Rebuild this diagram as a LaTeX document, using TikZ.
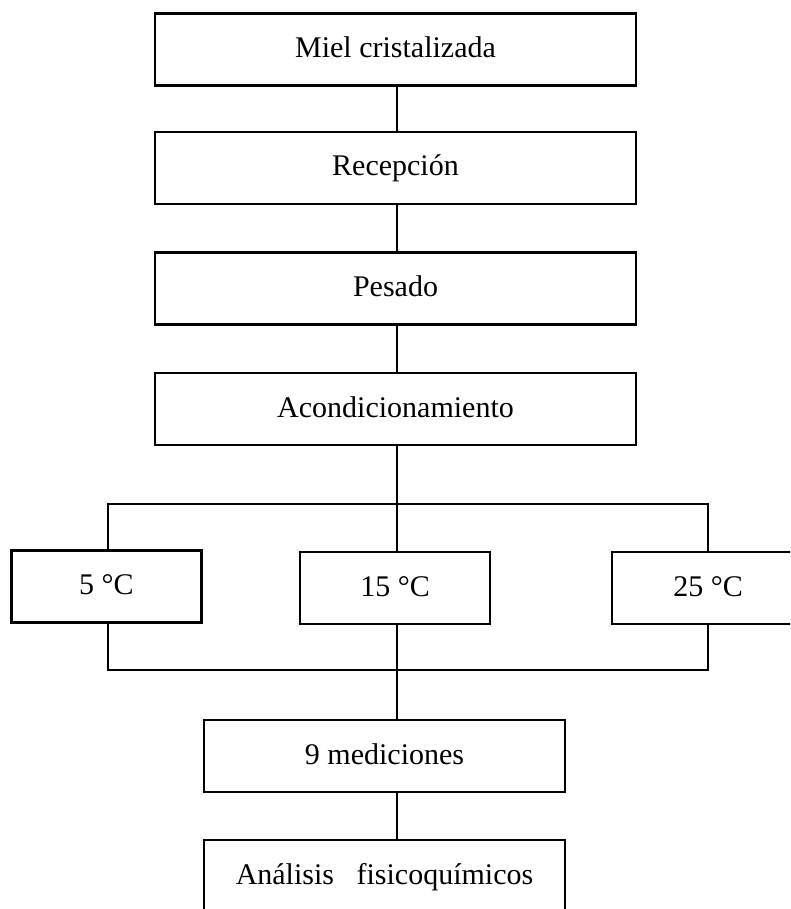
\documentclass[tikz,border=0pt]{standalone}
\usepackage{fontspec}
\setmainfont{Liberation Serif}
\begin{document}
\begin{tikzpicture}[x=0.75pt,y=-0.75pt,
  box/.style={draw,line width=1.7pt,inner sep=0pt,outer sep=0pt,minimum height=54pt,
    font=\fontsize{22.5pt}{27pt}\selectfont,text height=15pt,text depth=3pt},
  wide/.style={box,minimum width=360.75pt},
  temp/.style={box,minimum width=142.5pt},
  mid/.style={box,minimum width=270.75pt},
  link/.style={line width=0.9pt}]
\useasboundingbox (0,0) rectangle (790,909);
\clip (0,0) rectangle (790,909);
\coordinate (axis) at (397,0);
\node[wide] (b1) at (395.5,49.5) {Miel cristalizada};
\node[wide] (b2) at (395.5,168) {Recepción};
\node[wide] (b3) at (395.5,288.5) {Pesado};
\node[wide] (b4) at (395.5,409) {Acondicionamiento};
\node[temp] (t5) at (106.5,586.5) {5 °C};
\node[temp] (t15) at (395,588) {15 °C};
\node[temp,minimum width=144pt] (t25) at (708,588) {25 °C};
\node[mid] (m9) at (384.5,756) {9 mediciones};
\node[mid] (af) at (384.5,876) {Análisis\hspace{0.5em} fisicoquímicos};
\coordinate (hl) at (108,504);
\coordinate (hr) at (708,504);
\coordinate (bl) at (108,670);
\coordinate (br) at (708,670);
\draw[link] (b1.south -| axis) -- (b2.north -| axis);
\draw[link] (b2.south -| axis) -- (b3.north -| axis);
\draw[link] (b3.south -| axis) -- (b4.north -| axis);
\draw[link] (b4.south -| axis) -- (t15.north -| axis);
\draw[link] (hl |- t5.north) -- (hl) -- (hr) -- (hr |- t25.north);
\draw[link] (bl |- t5.south) -- (bl) -- (br) -- (br |- t25.south);
\draw[link] (t15.south -| axis) -- (m9.north -| axis);
\draw[link] (m9.south -| axis) -- (af.north -| axis);
\end{tikzpicture}
\end{document}
